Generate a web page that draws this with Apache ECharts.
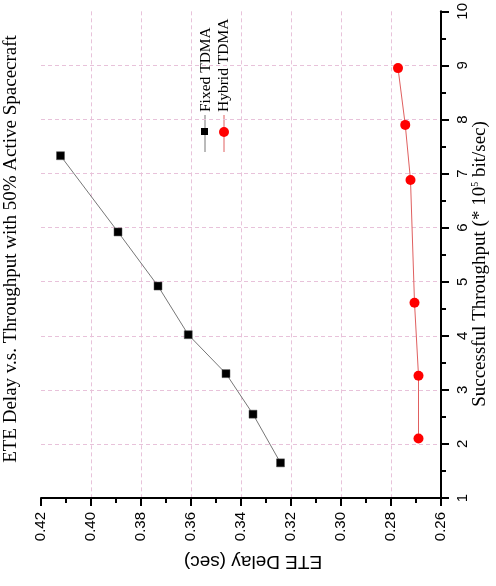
<!DOCTYPE html>
<html>
<head>
<meta charset="utf-8">
<title>ETE Delay v.s. Throughput</title>
<script src="https://cdn.jsdelivr.net/npm/echarts@6/dist/echarts.min.js"></script>
<style>
  html, body { margin: 0; padding: 0; background: #fff; }
  #main { width: 496px; height: 586px; }
</style>
</head>
<body>
<div id="main"></div>
<script>
// 数据（ETE 延迟 / 吞吐量 *10^5 bit/sec）
const fixedDelay = [0.4122, 0.3892, 0.3732, 0.3611, 0.3460, 0.3352, 0.3242];
const fixedThroughput = [7.33, 5.92, 4.92, 4.02, 3.30, 2.55, 1.65];
const hybridDelay = [0.2772, 0.2743, 0.2722, 0.2706, 0.2690, 0.2690];
const hybridThroughput = [8.95, 7.90, 6.88, 4.61, 3.26, 2.10];
const seriesNames = ['Fixed TDMA', 'Hybrid TDMA'];
const titleText = 'ETE Delay v.s. Throughput with 50% Active Spacecraft';

const serif = '"Liberation Serif", "Times New Roman", serif';
const sans = '"Liberation Sans", Arial, sans-serif';
const gridColor = '#e8c2da';

const chart = echarts.init(document.getElementById('main'));

const pairs = (xs, ys) => xs.map((x, i) => [x, ys[i]]);

const option = {
  backgroundColor: '#fff',
  animation: false,
  grid: { left: 41, right: 55, top: 7, bottom: 88 },
  xAxis: {
    type: 'value',
    inverse: true,
    min: 0.26,
    max: 0.42,
    interval: 0.02,
    axisLine: { show: true, lineStyle: { color: '#000', width: 2 } },
    axisTick: { show: true, length: 8, lineStyle: { color: '#000', width: 2 } },
    minorTick: { show: true, splitNumber: 2, length: 5, lineStyle: { color: '#000', width: 2 } },
    axisLabel: {
      rotate: 90,
      margin: 14,
      color: '#000',
      fontFamily: sans,
      fontSize: 15,
      formatter: v => v.toFixed(2)
    },
    splitLine: {
      show: true,
      showMinLine: false,
      showMaxLine: false,
      lineStyle: { color: gridColor, type: [4, 3], width: 1 }
    }
  },
  yAxis: {
    type: 'value',
    position: 'right',
    min: 1,
    max: 10,
    interval: 1,
    axisLine: { show: true, lineStyle: { color: '#000', width: 2 } },
    axisTick: { show: true, length: 8, lineStyle: { color: '#000', width: 2 } },
    minorTick: { show: true, splitNumber: 2, length: 5, lineStyle: { color: '#000', width: 2 } },
    axisLabel: {
      rotate: 90,
      margin: 14,
      color: '#000',
      fontFamily: sans,
      fontSize: 15
    },
    splitLine: {
      show: true,
      showMinLine: false,
      showMaxLine: false,
      lineStyle: { color: gridColor, type: [4, 3], width: 1 }
    }
  },
  series: [
    {
      name: seriesNames[0],
      type: 'line',
      data: pairs(fixedDelay, fixedThroughput),
      symbol: 'rect',
      symbolSize: 8,
      itemStyle: { color: '#000', borderColor: '#555', borderWidth: 0.5 },
      lineStyle: { color: '#777', width: 1 }
    },
    {
      name: seriesNames[1],
      type: 'line',
      data: pairs(hybridDelay, hybridThroughput),
      symbol: 'circle',
      symbolSize: 10,
      itemStyle: { color: '#ff0000' },
      lineStyle: { color: '#e06060', width: 1 }
    }
  ],
  graphic: [
    // 标题（竖排）
    {
      type: 'text', x: 11, y: 249, rotation: Math.PI / 2,
      style: { text: titleText, font: '19px ' + serif, fill: '#000', align: 'center', verticalAlign: 'middle' }
    },
    // 右侧坐标轴名称
    {
      type: 'text', x: 480, y: 264, rotation: Math.PI / 2,
      style: {
        text: '{a|Successful Throughput (* 10}{s|5}{a| bit/sec)}',
        align: 'center', verticalAlign: 'middle',
        rich: {
          a: { fontFamily: serif, fontSize: 19, fill: '#000', lineHeight: 20 },
          s: { fontFamily: serif, fontSize: 10, fill: '#000', verticalAlign: 'top', lineHeight: 20 }
        }
      }
    },
    // 底部坐标轴名称（倒置）
    {
      type: 'text', x: 253, y: 561, rotation: Math.PI,
      style: { text: 'ETE Delay (sec)', font: '19px ' + sans, fill: '#000', align: 'center', verticalAlign: 'middle' }
    },
    // 图例
    { type: 'line', shape: { x1: 205, y1: 115, x2: 205, y2: 152 }, style: { stroke: '#777', lineWidth: 1 } },
    { type: 'rect', shape: { x: 201, y: 128, width: 7, height: 7 }, style: { fill: '#000' } },
    {
      type: 'text', x: 206, y: 112, rotation: Math.PI / 2,
      style: { text: seriesNames[0], font: '15.5px ' + serif, fill: '#000', align: 'left', verticalAlign: 'middle' }
    },
    { type: 'line', shape: { x1: 224, y1: 115, x2: 224, y2: 152 }, style: { stroke: '#e06060', lineWidth: 1 } },
    { type: 'circle', shape: { cx: 224, cy: 132, r: 5 }, style: { fill: '#ff0000' } },
    {
      type: 'text', x: 224, y: 112, rotation: Math.PI / 2,
      style: { text: seriesNames[1], font: '15.5px ' + serif, fill: '#000', align: 'left', verticalAlign: 'middle' }
    }
  ]
};

chart.setOption(option);
</script>
</body>
</html>
